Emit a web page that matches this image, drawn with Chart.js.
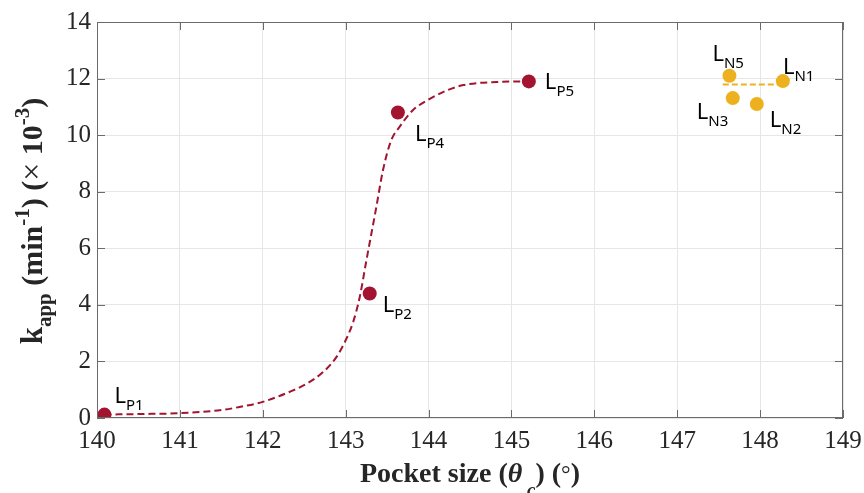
<!DOCTYPE html>
<html>
<head>
<meta charset="utf-8">
<script src="https://cdn.jsdelivr.net/npm/chart.js@4.4.0/dist/chart.umd.min.js"></script>
<style>
  html, body { margin: 0; padding: 0; background: #fff; }
</style>
</head>
<body>
<canvas id="chart" width="864" height="493"></canvas>
<script>
// --- data ---
const xTicks = [140, 141, 142, 143, 144, 145, 146, 147, 148, 149];
const yTicks = [0, 2, 4, 6, 8, 10, 12, 14];

// positive-pocket ligands (red)
const pNames = ['P1', 'P2', 'P4', 'P5'];
const pX = [140.09, 143.29, 143.63, 145.21];
const pY = [0.12, 4.40, 10.80, 11.90];

// negative-pocket ligands (orange)
const nNames = ['N5', 'N3', 'N2', 'N1'];
const nX = [147.63, 147.67, 147.96, 148.275];
const nY = [12.10, 11.31, 11.10, 11.91];

// dashed fit through the red points
const fitX = [140.09, 140.5, 141.0, 141.5, 141.72, 142.0, 142.32, 142.53, 142.73, 142.89, 143.01, 143.09, 143.17, 143.25, 143.37, 143.45, 143.55, 143.65, 143.81, 144.02, 144.22, 144.42, 144.82, 145.2];
const fitY = [0.12, 0.14, 0.17, 0.28, 0.39, 0.57, 0.92, 1.21, 1.63, 2.16, 2.81, 3.39, 4.28, 5.57, 7.46, 8.76, 9.82, 10.29, 10.88, 11.29, 11.58, 11.77, 11.88, 11.90];

// dashed mean line of the orange group
const meanX = [147.55, 148.27];
const meanY = [11.79, 11.79];

const RED = '#A2142F';
const ORANGE = '#EDB120';
const pts = (xs, ys) => xs.map((x, i) => ({ x: x, y: ys[i] }));

// label offsets (px) from each marker: [dx, dy of baseline]
const pOffsets = [[10, -12], [13, 18], [17, 28], [16, 8]];
const nOffsets = [[-17, -15], [-36, 21], [13, 23], [0, -7]];

function drawRich(ctx, parts, x, y, center) {
  let w = 0;
  parts.forEach(p => { ctx.font = p[1]; w += ctx.measureText(p[0]).width; });
  let cx = center ? x - w / 2 : x;
  parts.forEach(p => {
    ctx.font = p[1];
    ctx.fillText(p[0], cx, y + (p[2] || 0));
    cx += ctx.measureText(p[0]).width;
  });
}

const framePlugin = {
  id: 'frame',
  afterDraw(chart) {
    const ctx = chart.ctx;
    const a = chart.chartArea;
    const xs = chart.scales.x, ys = chart.scales.y;
    ctx.save();
    // box + inward ticks
    ctx.strokeStyle = '#6b6b6b';
    ctx.lineWidth = 1;
    ctx.strokeRect(a.left + 0.5, a.top + 0.5, a.right - a.left - 1, a.bottom - a.top - 1);
    ctx.beginPath();
    xTicks.forEach(v => {
      const px = Math.round(xs.getPixelForValue(v)) + 0.5;
      ctx.moveTo(px, a.bottom); ctx.lineTo(px, a.bottom - 8);
      ctx.moveTo(px, a.top); ctx.lineTo(px, a.top + 8);
    });
    yTicks.forEach(v => {
      const py = Math.round(ys.getPixelForValue(v)) + 0.5;
      ctx.moveTo(a.left, py); ctx.lineTo(a.left + 8, py);
      ctx.moveTo(a.right, py); ctx.lineTo(a.right - 8, py);
    });
    ctx.stroke();

    // point labels
    ctx.fillStyle = '#000';
    ctx.textBaseline = 'alphabetic';
    const lab = (name, x, y, off) => {
      const px = xs.getPixelForValue(x) + off[0];
      const py = ys.getPixelForValue(y) + off[1];
      drawRich(ctx, [['L', '22px "Noto Sans"', 0], [name, '15px "Noto Sans"', 7]], px, py, false);
    };
    pNames.forEach((n, i) => lab(n, pX[i], pY[i], pOffsets[i]));
    nNames.forEach((n, i) => lab(n, nX[i], nY[i], nOffsets[i]));

    // axis titles
    ctx.fillStyle = '#262626';
    const B = 'bold 28px "Liberation Serif"';
    const S = 'bold 19px "Liberation Serif"';
    drawRich(ctx, [
      ['Pocket size (', B, 0],
      ['\u03B8', 'italic bold 28px "Liberation Serif"', 0],
      [' c', 'italic bold 19px "Liberation Serif"', 14],
      [') (', B, 0],
      ['\u00B0', '24px "Liberation Serif"', 0],
      [')', B, 0]
    ], (a.left + a.right) / 2, 482, true);

    const YB = 'bold 30px "Liberation Serif"';
    const YS = 'bold 21px "Liberation Serif"';
    ctx.translate(42, 221);
    ctx.rotate(-Math.PI / 2);
    drawRich(ctx, [
      ['k', 'bold 31px "Liberation Serif"', 0],
      ['app', YS, 9],
      [' (min', YB, 0],
      ['-1', YS, -13],
      [') (', YB, 0],
      ['\u00D7', '32px "Liberation Serif"', 0],
      [' 10', YB, 0],
      ['-3', YS, -13],
      [')', YB, 0]
    ], 0, 0, true);
    ctx.restore();
  }
};

new Chart(document.getElementById('chart'), {
  data: {
    datasets: [
      { type: 'scatter', data: pts(pX, pY), backgroundColor: RED, pointRadius: 7, pointHoverRadius: 7, borderWidth: 0, order: 0 },
      { type: 'scatter', data: pts(nX, nY), backgroundColor: ORANGE, pointRadius: 7, pointHoverRadius: 7, borderWidth: 0, order: 0 },
      { type: 'line', data: pts(fitX, fitY), borderColor: RED, borderWidth: 2, borderDash: [7, 4], pointRadius: 0, cubicInterpolationMode: 'monotone', fill: false, order: 1 },
      { type: 'line', data: pts(meanX, meanY), borderColor: ORANGE, borderWidth: 2, borderDash: [6, 3], pointRadius: 0, fill: false, order: 1 }
    ]
  },
  options: {
    responsive: false,
    animation: false,
    events: [],
    layout: { padding: { top: 22, right: 21, left: 0, bottom: 0 } },
    plugins: { legend: { display: false }, tooltip: { enabled: false } },
    scales: {
      x: {
        type: 'linear', min: 140, max: 149,
        afterBuildTicks: s => { s.ticks = xTicks.map(v => ({ value: v })); },
        afterFit: s => { s.height = 75; s.paddingLeft = 0; s.paddingRight = 0; },
        grid: { color: '#e6e6e6', drawTicks: false },
        border: { display: false },
        ticks: { padding: 8, color: '#262626', font: { family: 'Liberation Serif', size: 25 } }
      },
      y: {
        type: 'linear', min: 0, max: 14,
        afterBuildTicks: s => { s.ticks = yTicks.map(v => ({ value: v })); },
        afterFit: s => { s.width = 97; s.paddingTop = 0; s.paddingBottom = 0; },
        grid: { color: '#e6e6e6', drawTicks: false },
        border: { display: false },
        ticks: { padding: 6, color: '#262626', font: { family: 'Liberation Serif', size: 25 } }
      }
    }
  },
  plugins: [framePlugin]
});
</script>
</body>
</html>
